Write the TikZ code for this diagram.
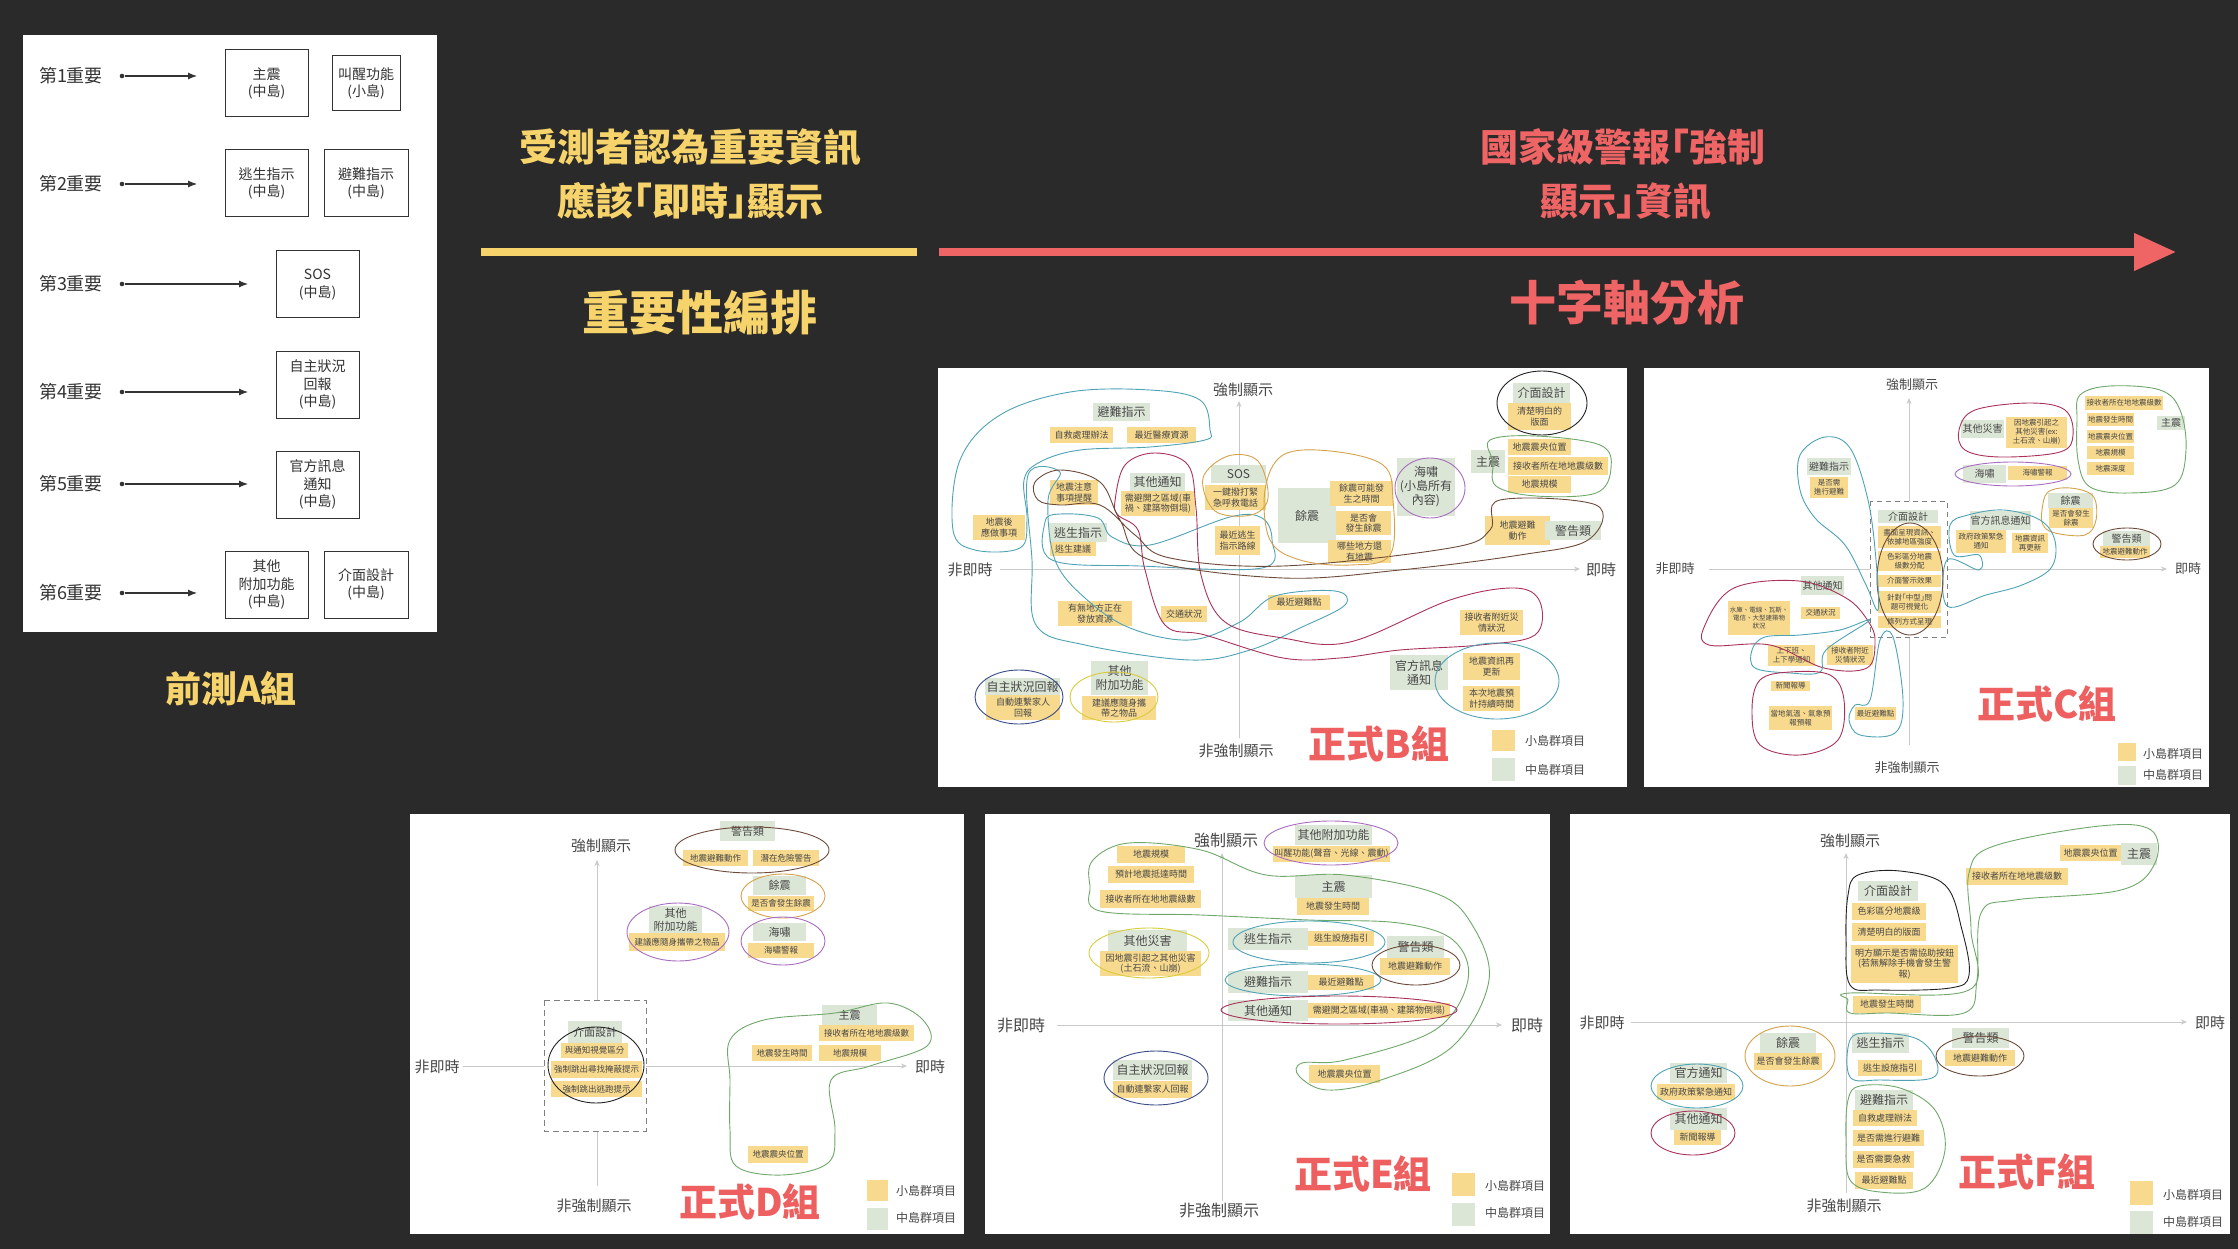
\documentclass[tikz,border=0pt]{standalone}
\usepackage{fontspec}
\setmainfont{Noto Sans CJK TC}
\usetikzlibrary{arrows.meta}
\definecolor{bg}{HTML}{2A2A2A}
\definecolor{hy}{HTML}{F7D46B}
\definecolor{hr}{HTML}{EF6464}
\definecolor{ybc}{HTML}{F8DA8E}
\definecolor{gbc}{HTML}{DCE6D6}
\definecolor{txc}{HTML}{474747}
\definecolor{axc}{HTML}{C9C9C9}
\definecolor{ltx}{HTML}{333333}
\definecolor{cteal}{HTML}{4FA3B5}
\definecolor{cmar}{HTML}{A8325A}
\definecolor{cbrn}{HTML}{6E4A3A}
\definecolor{corg}{HTML}{D4A24C}
\definecolor{cpur}{HTML}{A86CC0}
\definecolor{cgrn}{HTML}{6FA86A}
\definecolor{cyel}{HTML}{D8CC3A}
\definecolor{cblk}{HTML}{222222}
\definecolor{cblu}{HTML}{3A4A8A}
\definecolor{ttl}{HTML}{EE5F5F}
\newcommand\fs[2]{\fontsize{#1}{#2}\selectfont}
\newcommand\BX[7]{\node[#1,minimum width={#5pt-#3pt},minimum height={#6pt-#4pt}] (#2) at ({(#3+#5)/2},{(#4+#6)/2}) {#7};}
\tikzset{
 yb/.style={fill=ybc,text=txc,inner sep=0pt,align=center,font=\fs{9}{10.5}},
 gb/.style={fill=gbc,text=txc,inner sep=0pt,align=center,font=\fs{12}{14}},
 ybs/.style={yb,font=\fs{7.5}{9}},
 gbs/.style={gb,font=\fs{10}{12}},
 ybd/.style={yb,font=\fs{8.5}{10}},
 gbd/.style={gb,font=\fs{11}{13}},
 lb/.style={draw=ltx,line width=1pt,text=ltx,inner sep=0pt,align=center,font=\fs{14}{17.5}},
 axl/.style={text=txc,font=\fs{15}{17}},
 ax/.style={draw=axc,line width=0.8pt,-{Stealth[length=6pt,width=5pt]}},
 cv/.style={line width=0.9pt},
 ttlnode/.style={text=ttl,font=\bfseries\fs{38}{40}},
 leg/.style={text=txc,font=\fs{12}{14}},
 legy/.style={fill=ybc,inner sep=0pt},
 legg/.style={fill=gbc,inner sep=0pt},
 rowl/.style={text=ltx,font=\fs{18}{20}},
 dotn/.style={circle,fill=ltx,inner sep=0pt,minimum size=4.6pt},
 rarr/.style={ltx,line width=1.1pt,-{Latex[length=9pt,width=7pt]}},
 hdy/.style={text=hy,font=\bfseries\fs{38}{40}},
 hdr/.style={text=hr,font=\bfseries\fs{38}{40}},
}
\begin{document}
\begin{tikzpicture}[x=1pt,y=-1pt]
\useasboundingbox (0,0) rectangle (2238,1249);
\fill[bg] (0,0) rectangle (2238,1249);

% ---------------- left panel ----------------
\fill[white] (23,35) rectangle (437,632);
\foreach \n/\y/\e in {1/76/197,2/184/197,3/284/248,4/392/248,5/484/248,6/593/197}{
  \node[rowl] (r\n) at (71,\y) {第\n 重要};
  \node[dotn] (r\n d) at (122,\y) {};
  \coordinate (r\n e) at (\e,\y);
  \draw[rarr] (r\n d) -- (r\n e);
}
\BX{lb}{a1}{225}{50}{308}{117}{主震\\(中島)}
\BX{lb}{a2}{332}{56}{400}{111}{叫醒功能\\(小島)}
\BX{lb}{a3}{225}{150}{308}{217}{逃生指示\\(中島)}
\BX{lb}{a4}{324}{150}{408}{217}{避難指示\\(中島)}
\BX{lb}{a5}{276}{251}{359}{318}{SOS\\(中島)}
\BX{lb}{a6}{276}{351}{359}{418}{自主狀況\\回報\\(中島)}
\BX{lb}{a7}{276}{451}{359}{518}{官方訊息\\通知\\(中島)}
\BX{lb}{a8}{225}{551}{308}{618}{其他\\附加功能\\(中島)}
\BX{lb}{a9}{324}{551}{408}{618}{介面設計\\(中島)}
\node[text=hy,font=\bfseries\fs{36}{38}] (ha) at (231,689) {前測A組};

% ---------------- header ----------------
\node[hdy] (h1) at (690,147) {受測者認為重要資訊};
\node[hdy] (h2) at (690,201) {應該｢即時｣顯示};
\node[hdy,font=\bfseries\fs{47}{50}] (h3) at (700,313) {重要性編排};
\node[hdr] (h4) at (1623,147) {國家級警報｢強制};
\node[hdr] (h5) at (1626,201) {顯示｣資訊};
\node[hdr,font=\bfseries\fs{47}{50}] (h6) at (1627,303) {十字軸分析};
\coordinate (yl1) at (481,252); \coordinate (yl2) at (917,252);
\draw[hy,line width=8pt] (yl1) -- (yl2);
\coordinate (rl1) at (939,252); \coordinate (rl2) at (2176,252);
\draw[hr,line width=7.5pt,-{Triangle[length=42pt,width=36pt]}] (rl1) -- (rl2);

% ---------------- panel B ----------------
\fill[white] (938,368) rectangle (1627,787);
\node[axl] (bL) at (970,570) {非即時};
\node[axl] (bR) at (1601,570) {即時};
\node[axl] (bT) at (1243,390) {強制顯示};
\node[axl] (bB) at (1236,751) {非強制顯示};
\coordinate (bxw) at (1000,569); \coordinate (bxe) at (1580,569);
\coordinate (bys) at (1239,738); \coordinate (byn) at (1239,401);
\draw[ax] (bxw) -- (bxe); \draw[ax] (bys) -- (byn);
\BX{gb}{bG1}{1093}{403}{1150}{421}{避難指示}
\BX{yb}{bY1}{1050}{427}{1113}{443}{自救處理辦法}
\BX{yb}{bY2}{1127}{427}{1196}{443}{最近醫療資源}
\BX{yb}{bY3}{1050}{480}{1098}{505}{地震注意\\事項提醒}
\BX{gb}{bG2}{1130}{473}{1185}{491}{其他通知}
\BX{yb}{bY4}{1121}{491}{1195}{516}{需避開之區域(車\\禍、建築物倒塌)}
\BX{gb}{bG3}{1211}{465}{1266}{483}{SOS}
\BX{yb}{bY5}{1205}{485}{1266}{510}{一鍵撥打緊\\急呼救電話}
\BX{yb}{bY6}{973}{515}{1025}{540}{地震後\\應做事項}
\BX{gb}{bG4}{1049}{523}{1107}{542}{逃生指示}
\BX{yb}{bY7}{1050}{542}{1096}{556}{逃生建議}
\BX{yb}{bY8}{1215}{526}{1260}{555}{最近逃生\\指示路線}
\BX{yb}{bY9}{1058}{601}{1132}{626}{有無地方正在\\發放資源}
\BX{yb}{bY10}{1161}{606}{1207}{622}{交通狀況}
\BX{yb}{bY11}{1268}{595}{1330}{610}{最近避難點}
\BX{gb}{bG5}{985}{678}{1060}{695}{自主狀況回報}
\BX{yb}{bY12}{986}{695}{1060}{720}{自動連繫家人\\回報}
\BX{gb}{bG6}{1091}{661}{1148}{695}{其他\\附加功能}
\BX{yb}{bY13}{1082}{696}{1156}{720}{建議應隨身攜\\帶之物品}
\BX{gb}{bG7}{1278}{488}{1336}{543}{餘震}
\BX{yb}{bY14}{1330}{481}{1393}{506}{餘震可能發\\生之時間}
\BX{yb}{bY15}{1336}{511}{1391}{535}{是否會\\發生餘震}
\BX{yb}{bY16}{1328}{540}{1391}{563}{哪些地方還\\有地震}
\BX{gb}{bG8}{1397}{458}{1455}{516}{海嘯\\(小島所有\\內容)}
\BX{gb}{bG9}{1513}{383}{1570}{403}{介面設計}
\BX{yb}{bY17}{1508}{403}{1571}{430}{清楚明白的\\版面}
\BX{gb}{bG10}{1471}{450}{1505}{473}{主震}
\BX{yb}{bY18}{1508}{439}{1571}{455}{地震震央位置}
\BX{yb}{bY19}{1508}{457}{1608}{475}{接收者所在地地震級數}
\BX{yb}{bY20}{1508}{476}{1571}{493}{地震規模}
\BX{yb}{bY21}{1485}{516}{1550}{545}{地震避難\\動作}
\BX{gb}{bG11}{1545}{521}{1601}{540}{警告類}
\BX{yb}{bY22}{1460}{610}{1523}{635}{接收者附近災\\情狀況}
\BX{gb}{bG12}{1390}{655}{1448}{690}{官方訊息\\通知}
\BX{yb}{bY23}{1463}{653}{1520}{680}{地震資訊再\\更新}
\BX{yb}{bY24}{1463}{686}{1520}{711}{本次地震預\\計持續時間}
\draw[cv,cteal] plot[smooth cycle,tension=0.6] coordinates {(1210,430) (1200,400) (1150,390) (1070,392) (1000,415) (960,460) (953,530) (975,550) (1020,548) (1027,520) (1024,480) (1040,462) (1080,450) (1150,447) (1205,440)};
\draw[cv,cteal] plot[smooth cycle,tension=0.6] coordinates {(1045,522) (1052,560) (1140,566) (1262,568) (1272,540) (1262,518) (1230,517) (1150,545) (1112,537) (1098,518) (1060,514)};
\draw[cv,cteal] plot[smooth cycle,tension=0.6] coordinates {(1028,475) (1032,560) (1036,625) (1085,645) (1190,660) (1250,650) (1300,628) (1345,605) (1335,591) (1275,596) (1240,622) (1190,640) (1130,628) (1085,598) (1055,560) (1048,500) (1060,472)};
\draw[cv,cmar] plot[smooth cycle,tension=0.6] coordinates {(1115,501) (1125,465) (1155,453) (1188,465) (1196,508) (1201,575) (1225,622) (1283,638) (1350,642) (1450,600) (1515,588) (1540,602) (1535,635) (1480,645) (1400,650) (1340,658) (1283,658) (1205,635) (1165,625) (1145,570) (1138,530) (1118,515)};
\draw[cv,cbrn] plot[smooth cycle,tension=0.6] coordinates {(1035,482) (1060,470) (1100,482) (1120,520) (1150,560) (1283,578) (1400,570) (1520,555) (1588,540) (1596,505) (1500,500) (1490,530) (1450,548) (1283,566) (1170,558) (1135,535) (1100,505) (1060,505) (1038,500)};
\draw[cv,corg] plot[smooth cycle,tension=0.6] coordinates {(1283,455) (1330,451) (1383,465) (1393,500) (1390,555) (1350,565) (1300,560) (1270,540) (1265,490)};
\draw[cv,corg] plot[smooth cycle,tension=0.6] coordinates {(1203,478) (1228,456) (1258,461) (1268,498) (1251,515) (1215,511)};
\draw[cv,cpur] (1430,488) ellipse [x radius=35pt,y radius=30pt];
\draw[cv,cblk] (1542,403) ellipse [x radius=45pt,y radius=32pt];
\draw[cv,cgrn] plot[smooth cycle,tension=0.6] coordinates {(1490,440) (1536,436) (1600,445) (1611,468) (1596,493) (1536,496) (1496,486) (1493,462)};
\draw[cv,cteal] (1497,681) ellipse [x radius=62pt,y radius=38pt];
\draw[cv,cblu] (1019,697) ellipse [x radius=44pt,y radius=27pt];
\draw[cv,cyel] (1114,697) ellipse [x radius=44pt,y radius=25pt];
\node[ttlnode] (bTitle) at (1379,744) {正式B組};
\BX{legy}{bLy}{1492}{730}{1515}{751}{}
\BX{legg}{bLg}{1492}{758}{1515}{781}{}
\node[leg] (bLyt) at (1555,741) {小島群項目};
\node[leg] (bLgt) at (1555,770) {中島群項目};

% ---------------- panel C ----------------
\fill[white] (1644,368) rectangle (2209,787);
\node[axl,font=\fs{13}{15}] (cL) at (1675,569) {非即時};
\node[axl,font=\fs{13}{15}] (cR) at (2188,569) {即時};
\node[axl,font=\fs{13}{15}] (cT) at (1912,385) {強制顯示};
\node[axl,font=\fs{13}{15}] (cB) at (1907,768) {非強制顯示};
\coordinate (cxw) at (1709,569); \coordinate (cxe) at (2167,569);
\coordinate (cys) at (1909,745); \coordinate (cyn) at (1909,398);
\draw[ax] (cxw) -- (cxe); \draw[ax] (cys) -- (cyn);
\draw[dashed,draw=gray,line width=0.9pt,fill=white,dash pattern=on 5pt off 4pt] (1870,501) rectangle (1947,637);
\BX{ybs}{cY1}{2085}{396}{2163}{410}{接收者所在地地震級數}
\BX{ybs}{cY2}{2087}{413}{2134}{426}{地震發生時間}
\BX{ybs}{cY3}{2087}{430}{2134}{443}{地震震央位置}
\BX{ybs}{cY4}{2087}{446}{2134}{459}{地震規模}
\BX{ybs}{cY5}{2087}{462}{2134}{475}{地震深度}
\BX{gbs}{cG1}{2157}{416}{2185}{430}{主震}
\BX{gbs}{cG2}{1961}{420}{2004}{438}{其他災害}
\BX{ybs}{cY6}{2006}{417}{2067}{448}{因地震引起之\\其他災害(ex:\\土石流、山崩)}
\BX{gbs}{cG3}{1963}{465}{2006}{483}{海嘯}
\BX{ybs}{cY7}{2008}{466}{2067}{480}{海嘯警報}
\BX{gbs}{cG4}{2048}{493}{2093}{508}{餘震}
\BX{ybs}{cY8}{2049}{508}{2093}{528}{是否會發生\\餘震}
\BX{gbs}{cG5}{2103}{531}{2150}{546}{警告類}
\BX{ybs}{cY9}{2100}{546}{2150}{558}{地震避難動作}
\BX{gbs}{cG6}{1970}{511}{2031}{530}{官方訊息通知}
\BX{ybs}{cY10}{1956}{530}{2006}{553}{政府政策緊急\\通知}
\BX{ybs}{cY11}{2012}{533}{2048}{553}{地震資訊\\再更新}
\BX{gbs}{cG7}{1878}{510}{1938}{523}{介面設計}
\BX{ybs}{cY12}{1878}{526}{1941}{548}{畫面呈現資訊、\\依據地區強度}
\BX{ybs}{cY13}{1878}{551}{1941}{571}{色彩區分地震\\級數分配}
\BX{ybs}{cY14}{1878}{575}{1941}{587}{介面警示效果}
\BX{ybs}{cY15}{1878}{591}{1941}{613}{針對｢中型｣問\\題可視覺化}
\BX{ybs}{cY16}{1878}{616}{1941}{628}{條列方式呈現}
\BX{gbs}{cG8}{1807}{458}{1851}{475}{避難指示}
\BX{ybs}{cY17}{1810}{477}{1848}{498}{是否需\\進行避難}
\BX{gbs}{cG9}{1801}{576}{1844}{595}{其他通知}
\BX{ybs,font=\fs{6.5}{8}}{cY18}{1728}{601}{1790}{635}{水庫、電線、瓦斯、\\電信、大型建築物\\狀況}
\BX{ybs}{cY19}{1801}{607}{1840}{619}{交通狀況}
\BX{ybs}{cY20}{1768}{645}{1815}{666}{上下班、\\上下學通知}
\BX{ybs}{cY21}{1827}{645}{1873}{665}{接收者附近\\災情狀況}
\BX{ybs}{cY22}{1771}{681}{1810}{691}{新聞報導}
\BX{ybs}{cY23}{1769}{706}{1832}{730}{當地氣溫、氣象預\\報預報}
\BX{ybs}{cY24}{1855}{707}{1896}{720}{最近避難點}
\draw[cv,cgrn] plot[smooth cycle,tension=0.6] coordinates {(2080,395) (2110,386) (2160,390) (2180,410) (2186,450) (2175,485) (2130,493) (2090,487) (2078,460) (2077,420)};
\draw[cv,cmar] plot[smooth cycle,tension=0.6] coordinates {(1959,430) (1975,410) (2030,403) (2065,410) (2073,435) (2060,452) (2000,457) (1965,450)};
\draw[cv,cpur] (2013,474) ellipse [x radius=58pt,y radius=12pt];
\draw[cv,corg] plot[smooth cycle,tension=0.6] coordinates {(2042,510) (2048,492) (2070,488) (2093,496) (2096,520) (2085,535) (2055,533) (2043,525)};
\draw[cv,cbrn] (2127,544) ellipse [x radius=34pt,y radius=16pt];
\draw[cv,cteal] plot[smooth cycle,tension=0.6] coordinates {(1950,525) (1968,515) (2004,510) (2040,520) (2055,541) (2051,568) (2022,585) (1986,595) (1947,606) (1947,560) (1979,570) (1979,555) (1954,555)};
\draw[cv,cbrn] (1910,579) ellipse [x radius=33pt,y radius=56pt];
\draw[cv,cteal] plot[smooth cycle,tension=0.6] coordinates {(1800,455) (1825,437) (1850,448) (1868,500) (1876,560) (1878,610) (1866,585) (1845,545) (1815,518) (1800,490)};
\draw[cv,cmar] plot[smooth cycle,tension=0.6] coordinates {(1705,625) (1734,588) (1799,581) (1846,598) (1868,621) (1875,641) (1867,668) (1824,668) (1770,645) (1709,645)};
\draw[cv,cteal] plot[smooth cycle,tension=0.6] coordinates {(1752,650) (1765,637) (1800,635) (1840,630) (1870,620) (1826,650) (1820,672) (1790,673) (1755,668)};
\draw[cv,cmar] plot[smooth cycle,tension=0.6] coordinates {(1752,710) (1760,680) (1790,672) (1830,675) (1844,700) (1838,740) (1800,755) (1760,745)};
\draw[cv,cteal] plot[smooth cycle,tension=0.6] coordinates {(1849,720) (1855,705) (1870,700) (1880,640) (1893,637) (1903,700) (1895,733) (1860,735)};
\node[ttlnode] (cTitle) at (2047,704) {正式C組};
\BX{legy}{cLy}{2118}{743}{2136}{761}{}
\BX{legg}{cLg}{2118}{766}{2136}{785}{}
\node[leg] (cLyt) at (2173,754) {小島群項目};
\node[leg] (cLgt) at (2173,775) {中島群項目};

% ---------------- panel D ----------------
\fill[white] (410,814) rectangle (964,1234);
\node[axl] (dL) at (437,1067) {非即時};
\node[axl] (dR) at (930,1067) {即時};
\node[axl] (dT) at (601,846) {強制顯示};
\node[axl] (dB) at (594,1206) {非強制顯示};
\coordinate (dxw) at (463,1066); \coordinate (dxe) at (907,1066);
\coordinate (dys) at (597,1186); \coordinate (dyn) at (597,860);
\draw[ax] (dxw) -- (dxe); \draw[ax] (dys) -- (dyn);
\draw[draw=gray,line width=0.9pt,fill=white,dash pattern=on 6pt off 4pt] (544,1000) rectangle (646,1131);
\BX{gbd}{dG1}{720}{821}{775}{841}{警告類}
\BX{ybd}{dY1}{683}{850}{748}{866}{地震避難動作}
\BX{ybd}{dY2}{753}{850}{819}{866}{潛在危險警告}
\BX{gbd}{dG2}{753}{876}{806}{895}{餘震}
\BX{ybd}{dY3}{748}{896}{814}{911}{是否會發生餘震}
\BX{gbd}{dG3}{753}{923}{806}{941}{海嘯}
\BX{ybd}{dY4}{748}{943}{814}{958}{海嘯警報}
\BX{gbd}{dG4}{649}{906}{702}{933}{其他\\附加功能}
\BX{ybd}{dY5}{629}{933}{725}{951}{建議應隨身攜帶之物品}
\BX{gbd}{dG5}{568}{1021}{622}{1043}{介面設計}
\BX{ybd}{dY6}{561}{1043}{628}{1058}{與通知視覺區分}
\BX{ybd}{dY7}{551}{1061}{642}{1078}{強制跳出尋找掩蔽提示}
\BX{ybd}{dY8}{551}{1081}{642}{1097}{強制跳出逃跑提示}
\BX{gbd}{dG6}{822}{1005}{877}{1025}{主震}
\BX{ybd}{dY9}{819}{1025}{914}{1041}{接收者所在地地震級數}
\BX{ybd}{dY10}{752}{1045}{812}{1061}{地震發生時間}
\BX{ybd}{dY11}{819}{1045}{881}{1061}{地震規模}
\BX{ybd}{dY12}{748}{1146}{808}{1163}{地震震央位置}
\draw[cv,cbrn] (752,850) ellipse [x radius=77pt,y radius=23pt];
\draw[cv,corg] (783,896) ellipse [x radius=42pt,y radius=22pt];
\draw[cv,cpur] (783,941) ellipse [x radius=42pt,y radius=24pt];
\draw[cv,cpur] (678,932) ellipse [x radius=51pt,y radius=29pt];
\draw[cv,cblk] (596,1065) ellipse [x radius=48pt,y radius=38pt];
\draw[cv,cgrn] plot[smooth cycle,tension=0.6] coordinates {(730,1040) (764,1020) (835,1013) (888,1003) (923,1020) (927,1046) (870,1066) (831,1080) (835,1130) (828,1163) (782,1175) (736,1166) (730,1130) (730,1080)};
\node[ttlnode] (dTitle) at (750,1202) {正式D組};
\BX{legy}{dLy}{867}{1180}{888}{1201}{}
\BX{legg}{dLg}{867}{1208}{888}{1230}{}
\node[leg] (dLyt) at (926,1191) {小島群項目};
\node[leg] (dLgt) at (926,1218) {中島群項目};

% ---------------- panel E ----------------
\fill[white] (985,814) rectangle (1550,1234);
\node[axl,font=\fs{16}{18}] (eL) at (1021,1025) {非即時};
\node[axl,font=\fs{16}{18}] (eR) at (1527,1025) {即時};
\node[axl,font=\fs{16}{18}] (eT) at (1226,840) {強制顯示};
\node[axl,font=\fs{16}{18}] (eB) at (1219,1211) {非強制顯示};
\coordinate (exw) at (1057,1025); \coordinate (exe) at (1502,1025);
\coordinate (eys) at (1222,1201); \coordinate (eyn) at (1222,853);
\draw[ax] (exw) -- (exe); \draw[ax] (eys) -- (eyn);
\BX{gb}{eG1}{1295}{825}{1372}{845}{其他附加功能}
\BX{yb}{eY1}{1273}{846}{1390}{862}{叫醒功能(聲音、光線、震動)}
\BX{yb}{eY2}{1117}{846}{1185}{863}{地震規模}
\BX{yb}{eY3}{1108}{866}{1194}{883}{預計地震抵達時間}
\BX{yb}{eY4}{1100}{890}{1201}{908}{接收者所在地地震級數}
\BX{gb}{eG2}{1295}{875}{1372}{898}{主震}
\BX{yb}{eY5}{1297}{898}{1369}{915}{地震發生時間}
\BX{yb}{eY6}{1309}{1065}{1380}{1083}{地震震央位置}
\BX{gb}{eG3}{1108}{930}{1187}{951}{其他災害}
\BX{yb}{eY7}{1100}{951}{1201}{976}{因地震引起之其他災害\\(土石流、山崩)}
\BX{gb}{eG4}{1228}{928}{1308}{950}{逃生指示}
\BX{yb}{eY8}{1308}{931}{1374}{946}{逃生設施指引}
\BX{gb}{eG5}{1228}{971}{1308}{993}{避難指示}
\BX{yb}{eY9}{1308}{975}{1374}{990}{最近避難點}
\BX{gb}{eG6}{1387}{936}{1444}{958}{警告類}
\BX{yb}{eY10}{1380}{958}{1450}{975}{地震避難動作}
\BX{gb}{eG7}{1228}{1000}{1308}{1021}{其他通知}
\BX{yb}{eY11}{1308}{1003}{1450}{1018}{需避開之區域(車禍、建築物倒塌)}
\BX{gb}{eG8}{1113}{1060}{1192}{1080}{自主狀況回報}
\BX{yb}{eY12}{1113}{1081}{1192}{1098}{自動連繫家人回報}
\draw[cv,cpur] (1331,843) ellipse [x radius=67pt,y radius=22pt];
\draw[cv,cgrn] plot[smooth cycle,tension=0.6] coordinates {(1093,860) (1129,843) (1201,850) (1266,875) (1345,875) (1435,893) (1471,923) (1489,980) (1453,1046) (1381,1080) (1327,1090) (1299,1076) (1302,1063) (1345,1060) (1435,1030) (1468,980) (1453,940) (1399,923) (1309,920) (1201,915) (1100,911) (1090,886)};
\draw[cv,cyel] (1149,953) ellipse [x radius=60pt,y radius=25pt];
\draw[cv,cteal] (1309,942) ellipse [x radius=76pt,y radius=21pt];
\draw[cv,cteal] (1303,980) ellipse [x radius=78pt,y radius=16pt];
\draw[cv,cbrn] (1416,965) ellipse [x radius=44pt,y radius=20pt];
\draw[cv,cmar] (1339,1010) ellipse [x radius=118pt,y radius=14pt];
\draw[cv,cblu] (1156,1078) ellipse [x radius=52pt,y radius=27pt];
\node[ttlnode] (eTitle) at (1363,1174) {正式E組};
\BX{legy}{eLy}{1452}{1173}{1475}{1196}{}
\BX{legg}{eLg}{1452}{1203}{1475}{1226}{}
\node[leg] (eLyt) at (1515,1186) {小島群項目};
\node[leg] (eLgt) at (1515,1213) {中島群項目};

% ---------------- panel F ----------------
\fill[white] (1570,814) rectangle (2230,1234);
\node[axl] (fL) at (1602,1023) {非即時};
\node[axl] (fR) at (2210,1023) {即時};
\node[axl] (fT) at (1850,841) {強制顯示};
\node[axl] (fB) at (1844,1206) {非強制顯示};
\coordinate (fxw) at (1631,1022); \coordinate (fxe) at (2187,1022);
\coordinate (fys) at (1846,1193); \coordinate (fyn) at (1846,853);
\draw[ax] (fxw) -- (fxe); \draw[ax] (fys) -- (fyn);
\BX{yb}{fY1}{2060}{845}{2121}{861}{地震震央位置}
\BX{gb}{fG1}{2121}{843}{2157}{865}{主震}
\BX{yb}{fY2}{1966}{868}{2068}{885}{接收者所在地地震級數}
\BX{gb}{fG2}{1858}{881}{1918}{901}{介面設計}
\BX{yb}{fY3}{1852}{903}{1926}{920}{色彩區分地震級}
\BX{yb}{fY4}{1852}{923}{1926}{941}{清楚明白的版面}
\BX{yb}{fY5}{1851}{945}{1958}{983}{明方顯示是否需協助按鈕\\(若無解除手機會發生警\\報)}
\BX{yb}{fY6}{1853}{996}{1921}{1013}{地震發生時間}
\BX{gb}{fG3}{1760}{1033}{1816}{1053}{餘震}
\BX{yb}{fY7}{1754}{1053}{1822}{1070}{是否會發生餘震}
\BX{gb}{fG4}{1670}{1063}{1727}{1083}{官方通知}
\BX{yb}{fY8}{1657}{1084}{1735}{1100}{政府政策緊急通知}
\BX{gb}{fG5}{1670}{1108}{1727}{1130}{其他通知}
\BX{yb}{fY9}{1674}{1130}{1721}{1145}{新聞報導}
\BX{gb}{fG6}{1852}{1033}{1909}{1053}{逃生指示}
\BX{yb}{fY10}{1858}{1060}{1922}{1076}{逃生設施指引}
\BX{gb}{fG7}{1952}{1028}{2009}{1048}{警告類}
\BX{yb}{fY11}{1945}{1050}{2015}{1066}{地震避難動作}
\BX{gb}{fG8}{1855}{1090}{1913}{1110}{避難指示}
\BX{yb}{fY12}{1853}{1110}{1917}{1126}{自救處理辦法}
\BX{yb}{fY13}{1853}{1130}{1924}{1146}{是否需進行避難}
\BX{yb}{fY14}{1853}{1151}{1914}{1168}{是否需要急救}
\BX{yb}{fY15}{1855}{1172}{1913}{1189}{最近避難點}
\draw[cv,cblk] plot[smooth cycle,tension=0.6] coordinates {(1848,895) (1858,875) (1900,871) (1945,885) (1962,930) (1969,975) (1950,988) (1880,990) (1850,985) (1846,940)};
\draw[cv,cgrn] plot[smooth cycle,tension=0.6] coordinates {(1850,993) (1969,990) (1971,930) (1969,873) (1994,846) (2100,826) (2151,830) (2155,863) (2121,890) (2015,900) (1981,913) (1977,980) (1964,1013) (1888,1013) (1850,1013) (1848,1000)};
\draw[cv,corg] (1790,1056) ellipse [x radius=45pt,y radius=30pt];
\draw[cv,cteal] (1697,1086) ellipse [x radius=46pt,y radius=22pt];
\draw[cv,cmar] (1693,1133) ellipse [x radius=42pt,y radius=22pt];
\draw[cv,cteal] plot[smooth cycle,tension=0.6] coordinates {(1850,1040) (1870,1033) (1915,1038) (1935,1058) (1932,1078) (1880,1080) (1850,1077)};
\draw[cv,cbrn] (1980,1056) ellipse [x radius=44pt,y radius=20pt];
\draw[cv,cgrn] plot[smooth cycle,tension=0.6] coordinates {(1848,1100) (1860,1086) (1900,1088) (1935,1110) (1945,1150) (1925,1188) (1880,1192) (1850,1180) (1846,1140)};
\node[ttlnode] (fTitle) at (2027,1172) {正式F組};
\BX{legy}{fLy}{2130}{1181}{2153}{1205}{}
\BX{legg}{fLg}{2130}{1211}{2153}{1234}{}
\node[leg] (fLyt) at (2193,1195) {小島群項目};
\node[leg] (fLgt) at (2193,1222) {中島群項目};
\end{tikzpicture}
\end{document}
